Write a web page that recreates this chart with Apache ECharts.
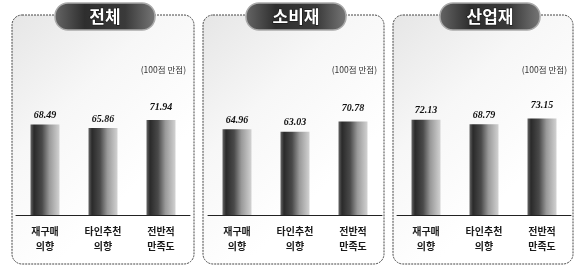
<!DOCTYPE html>
<html>
<head>
<meta charset="utf-8">
<script src="https://cdn.jsdelivr.net/npm/echarts@6/dist/echarts.min.js"></script>
<style>
  html, body { margin: 0; padding: 0; background: #fff; }
  #chart { width: 580px; height: 268px; }
</style>
</head>
<body>
<div id="chart"></div>
<script>
// 데이터
const categories = ['재구매\n의향', '타인추천\n의향', '전반적\n만족도'];
const panelTitles = ['전체', '소비재', '산업재'];
const totalValues = [68.49, 65.86, 71.94];
const consumerValues = [64.96, 63.03, 70.78];
const industrialValues = [72.13, 68.79, 73.15];
const unitLabel = '(100점 만점)';

const seriesValues = [totalValues, consumerValues, industrialValues];

// 패널 배치
const panels = [
  { x: 12, w: 182, gridLeft: 16, badgeX: 105, unitRight: 186 },
  { x: 203, w: 181, gridLeft: 208, badgeX: 296, unitRight: 377 },
  { x: 393, w: 180, gridLeft: 397, badgeX: 490, unitRight: 567 }
];

const barFill = {
  type: 'linear', x: 0, y: 0, x2: 1, y2: 0,
  colorStops: [
    { offset: 0, color: '#666' },
    { offset: 0.12, color: '#2a2a2a' },
    { offset: 0.4, color: '#4a4a4a' },
    { offset: 0.65, color: '#999' },
    { offset: 1, color: '#d2d2d2' }
  ]
};

let grids = [], xAxes = [], yAxes = [], series = [], graphics = [];

panels.forEach(function (p, i) {
  // 패널 박스
  graphics.push({
    type: 'rect', z: 0,
    shape: { x: p.x, y: 15, width: p.w, height: 249, r: 10 },
    style: {
      fill: {
        type: 'linear', x: 0, y: 0, x2: 0.8, y2: 0.6,
        colorStops: [
          { offset: 0, color: '#e6e6e6' },
          { offset: 0.5, color: '#f7f7f7' },
          { offset: 1, color: '#ffffff' }
        ]
      },
      stroke: '#444', lineWidth: 1, lineDash: [2, 1]
    }
  });
  // 제목 배지
  graphics.push({
    type: 'rect', z: 10,
    shape: { x: p.badgeX - 50, y: 3, width: 100, height: 27, r: 13 },
    style: {
      fill: {
        type: 'linear', x: 0, y: 0, x2: 1, y2: 0,
        colorStops: [
          { offset: 0, color: '#666' },
          { offset: 0.3, color: '#2e2e2e' },
          { offset: 0.7, color: '#3a3a3a' },
          { offset: 1, color: '#777' }
        ]
      },
      stroke: '#aaa', lineWidth: 1.5
    }
  });
  graphics.push({
    type: 'text', z: 11,
    x: p.badgeX, y: 17,
    style: {
      text: panelTitles[i],
      fill: '#fff', stroke: '#111', lineWidth: 1,
      font: 'bold 17px "Noto Sans CJK KR"',
      textAlign: 'center', textVerticalAlign: 'middle'
    }
  });
  // 단위
  graphics.push({
    type: 'text', z: 5,
    x: p.unitRight, y: 70,
    style: {
      text: unitLabel,
      fill: '#333',
      font: '8.5px "Noto Sans CJK KR"',
      textAlign: 'right', textVerticalAlign: 'middle'
    }
  });

  grids.push({ left: p.gridLeft, width: 174, top: 83, bottom: 53 });
  xAxes.push({
    type: 'category', gridIndex: i, data: categories,
    axisLine: { lineStyle: { color: '#222', width: 1 } },
    axisTick: { inside: true, length: 3, lineStyle: { color: '#222' } },
    axisLabel: {
      margin: 9, color: '#1a1a1a', fontSize: 10, fontWeight: 'bold',
      fontFamily: 'Noto Sans CJK KR', lineHeight: 15
    }
  });
  yAxes.push({ type: 'value', gridIndex: i, min: 0, max: 100, show: false });
  series.push({
    type: 'bar', xAxisIndex: i, yAxisIndex: i, barWidth: 29,
    itemStyle: { color: barFill },
    data: seriesValues[i].map(function (v, j) {
      return { value: v, label: { distance: j === 2 ? 8 : 4 } };
    }),
    label: {
      show: true, position: 'top',
      formatter: function (d) { return d.value.toFixed(2); },
      color: '#111', fontSize: 10, fontWeight: 'bold', fontStyle: 'italic',
      fontFamily: 'Liberation Serif'
    }
  });
});

const chart = echarts.init(document.getElementById('chart'));
chart.setOption({
  animation: false,
  grid: grids,
  xAxis: xAxes,
  yAxis: yAxes,
  series: series,
  graphic: graphics
});
</script>
</body>
</html>
